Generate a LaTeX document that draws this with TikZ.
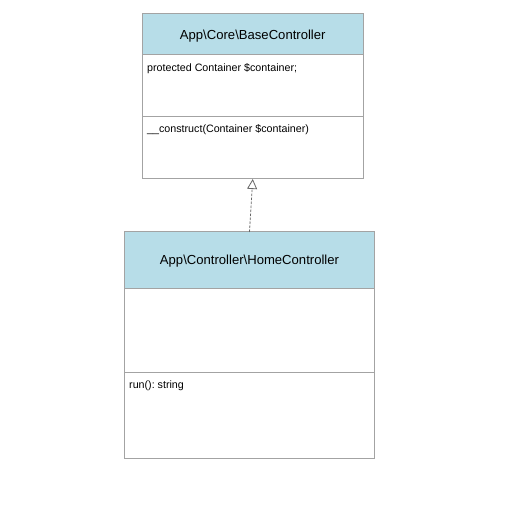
\documentclass[tikz,border=0pt]{standalone}
\usepackage{fontspec}
\setmainfont{Liberation Sans}
\usetikzlibrary{arrows.meta}
\definecolor{hdr}{HTML}{B7DDE8}
\definecolor{bord}{HTML}{A3A3A3}
\definecolor{arr}{HTML}{666666}
\frenchspacing
\tikzset{
  comp/.style={draw=bord, line width=1pt, anchor=north west, inner sep=0pt, outer sep=0pt, rectangle},
  hdrbox/.style={comp, fill=hdr, font=\fontsize{13.1}{15}\selectfont, align=center, text depth=0pt},
  membox/.style={comp, fill=white},
  memtxt/.style={anchor=north west, inner sep=0pt, font=\fontsize{10.7}{13}\selectfont},
  realize/.style={draw=arr, line width=0.8pt, dash pattern=on 2.5pt off 1.5pt, -{Triangle[open, width=10pt, length=10pt, fill=white]}}
}
\begin{document}
\begin{tikzpicture}[x=1pt,y=-1pt]
\useasboundingbox (0,0) rectangle (530,526);
% Base controller
\node[hdrbox, minimum width=220.5pt, minimum height=41pt] (hA) at (142.5,14) {App\textbackslash Core\textbackslash BaseController};
\node[membox, minimum width=220.5pt, minimum height=61.5pt] (aA) at (142.5,55) {};
\node[membox, minimum width=220.5pt, minimum height=62.5pt] (mA) at (142.5,116.5) {};
\node[memtxt] (aAt) at (147,63) {protected Container \$container;};
\node[memtxt] (mAt) at (147,124.5) {\_\_construct(Container \$container)};
% Home controller
\node[hdrbox, minimum width=250pt, minimum height=56.5pt] (hB) at (124.5,232) {App\textbackslash Controller\textbackslash HomeController};
\node[membox, minimum width=250pt, minimum height=84.5pt] (aB) at (124.5,288.5) {};
\node[membox, minimum width=250pt, minimum height=85pt] (mB) at (124.5,373) {};
\node[memtxt] (mBt) at (129,380.5) {run(): string};
% realization
\draw[realize] (hB.north) -- (mA.south);
\end{tikzpicture}
\end{document}
